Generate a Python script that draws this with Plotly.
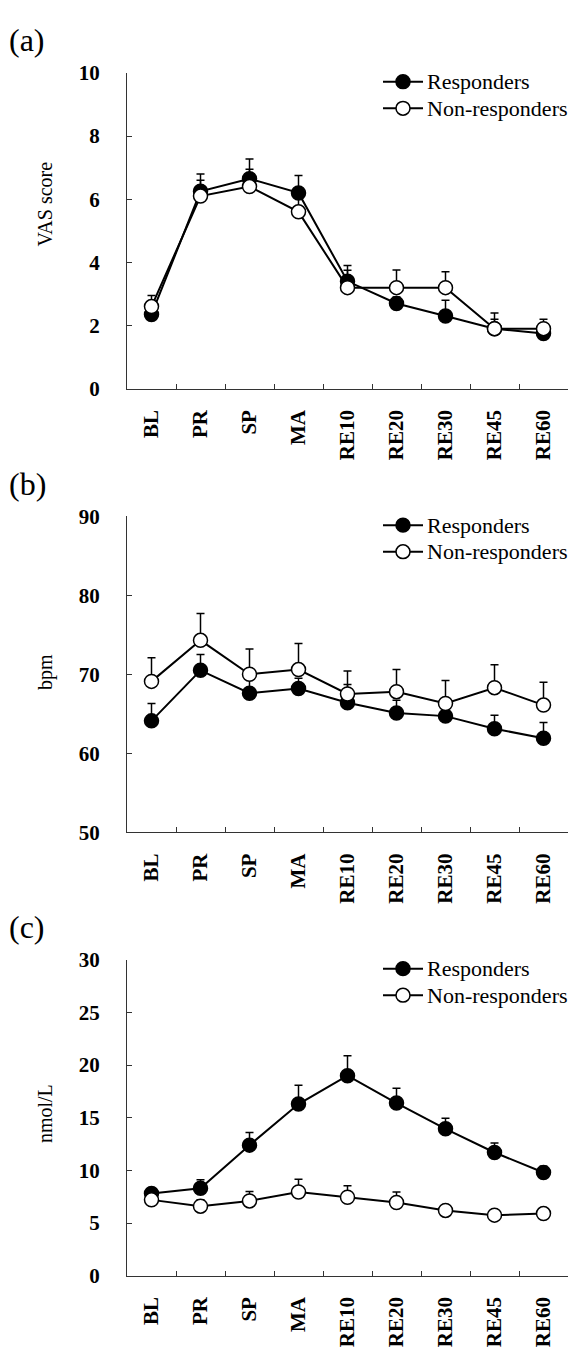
import plotly.graph_objects as go

# ---------------- data ----------------
categories = ["BL", "PR", "SP", "MA", "RE10", "RE20", "RE30", "RE45", "RE60"]

vas_resp = [2.35, 6.25, 6.65, 6.2, 3.4, 2.7, 2.3, 1.9, 1.75]
vas_resp_err = [0.15, 0.55, 0.62, 0.55, 0.5, 0.2, 0.5, 0.3, 0.2]
vas_non = [2.6, 6.1, 6.4, 5.6, 3.2, 3.2, 3.2, 1.9, 1.9]
vas_non_err = [0.35, 0.5, 0.55, 0.5, 0.55, 0.56, 0.5, 0.5, 0.3]

hr_resp = [64.1, 70.5, 67.6, 68.2, 66.4, 65.1, 64.7, 63.1, 61.9]
hr_resp_err = [2.2, 2.0, 1.9, 1.3, 2.3, 1.6, 1.5, 1.7, 2.0]
hr_non = [69.1, 74.3, 70.0, 70.6, 67.5, 67.8, 66.3, 68.3, 66.1]
hr_non_err = [3.0, 3.4, 3.2, 3.3, 2.9, 2.8, 2.9, 2.9, 2.9]

cort_resp = [7.8, 8.3, 12.4, 16.3, 19.0, 16.4, 13.95, 11.7, 9.8]
cort_resp_err = [0.5, 0.8, 1.2, 1.8, 1.9, 1.4, 1.0, 0.9, 0.6]
cort_non = [7.2, 6.6, 7.1, 7.95, 7.45, 6.95, 6.2, 5.75, 5.9]
cort_non_err = [0.4, 0.6, 0.9, 1.2, 1.1, 1.0, 0.5, 0.4, 0.3]

panel_labels = ["(a)", "(b)", "(c)"]
y_titles = ["VAS score", "bpm", "nmol/L"]
y_ranges = [[0, 10], [50, 90], [0, 30]]
y_dticks = [2, 10, 5]
series_names = ["Responders", "Non-responders"]

# ---------------- layout helpers ----------------
W, H = 574, 1352
SERIF = "Liberation Serif, Times New Roman, serif"


def px(x):
    return x / W


def py(y):
    return 1 - y / H


panels = [
    (vas_resp, vas_resp_err, vas_non, vas_non_err),
    (hr_resp, hr_resp_err, hr_non, hr_non_err),
    (cort_resp, cort_resp_err, cort_non, cort_non_err),
]

STEP = 451.5
X_LEFT, X_RIGHT = 127, 568
title_centers = [196, 672, 1122]

fig = go.Figure()
shapes = []
annotations = []
layout = {}

for i, (r, re, n, ne) in enumerate(panels):
    top = 62 + STEP * i
    bottom = 383.5 + STEP * i
    xa = "x" if i == 0 else f"x{i+1}"
    ya = "y" if i == 0 else f"y{i+1}"
    xkey = "xaxis" if i == 0 else f"xaxis{i+1}"
    ykey = "yaxis" if i == 0 else f"yaxis{i+1}"

    for vals, errs, fillc, name in [(r, re, "black", series_names[0]),
                                    (n, ne, "white", series_names[1])]:
        fig.add_trace(go.Scatter(
            x=categories, y=vals, xaxis=xa, yaxis=ya, name=name,
            mode="lines+markers", showlegend=False, cliponaxis=False,
            line=dict(color="black", width=2),
            marker=dict(size=14, color=fillc, line=dict(color="black", width=1.5)),
            error_y=dict(type="data", symmetric=False, array=errs,
                         arrayminus=[0] * len(errs), color="black",
                         thickness=1.5, width=4),
        ))

    layout[xkey] = dict(
        domain=[px(X_LEFT), px(X_RIGHT)], anchor=ya, type="category",
        range=[-0.5, len(categories) - 0.5], tickson="boundaries",
        ticks="inside", ticklen=5, tickwidth=1, tickcolor="#333",
        showline=True, linecolor="#333", linewidth=1, showgrid=False,
        zeroline=False, tickangle=-90, ticklabelstandoff=12,
        tickfont=dict(family=SERIF, size=21, color="black", weight="bold"),
    )
    layout[ykey] = dict(
        domain=[py(bottom), py(top)], anchor=xa, range=y_ranges[i],
        dtick=y_dticks[i], tick0=y_ranges[i][0],
        ticks="inside", ticklen=5, tickwidth=1, tickcolor="#333",
        showline=True, linecolor="#333", linewidth=1, showgrid=False,
        zeroline=False, ticklabelstandoff=22,
        tickfont=dict(family=SERIF, size=21, color="black", weight="bold"),
    )

    # panel label
    annotations.append(dict(
        text=panel_labels[i], xref="paper", yref="paper",
        x=px(7), y=py(29 + STEP * i), xanchor="left", yanchor="middle",
        showarrow=False, font=dict(family=SERIF, size=32, color="black")))
    # y title
    annotations.append(dict(
        text=y_titles[i], xref="paper", yref="paper",
        x=px(45), y=py(title_centers[i]), xanchor="center", yanchor="middle",
        textangle=-90, showarrow=False,
        font=dict(family=SERIF, size=20, color="black")))

    # manual legend
    for k, (name, fillc) in enumerate(zip(series_names, ["black", "white"])):
        yy = top + 9 + 27 * k
        shapes.append(dict(type="line", xref="paper", yref="paper",
                           x0=px(383), x1=px(423), y0=py(yy), y1=py(yy),
                           line=dict(color="black", width=2)))
        rad = 7
        shapes.append(dict(type="circle", xref="paper", yref="paper",
                           x0=px(403 - rad), x1=px(403 + rad),
                           y0=py(yy + rad), y1=py(yy - rad),
                           fillcolor=fillc, line=dict(color="black", width=1.5)))
        annotations.append(dict(
            text=name, xref="paper", yref="paper", x=px(425), y=py(yy),
            xanchor="left", yanchor="middle", showarrow=False,
            font=dict(family=SERIF, size=22, color="black")))

fig.update_layout(
    width=W, height=H, margin=dict(l=0, r=0, t=0, b=0),
    paper_bgcolor="white", plot_bgcolor="white",
    showlegend=False, shapes=shapes, annotations=annotations,
    **layout,
)

fig.write_html("out.html")
